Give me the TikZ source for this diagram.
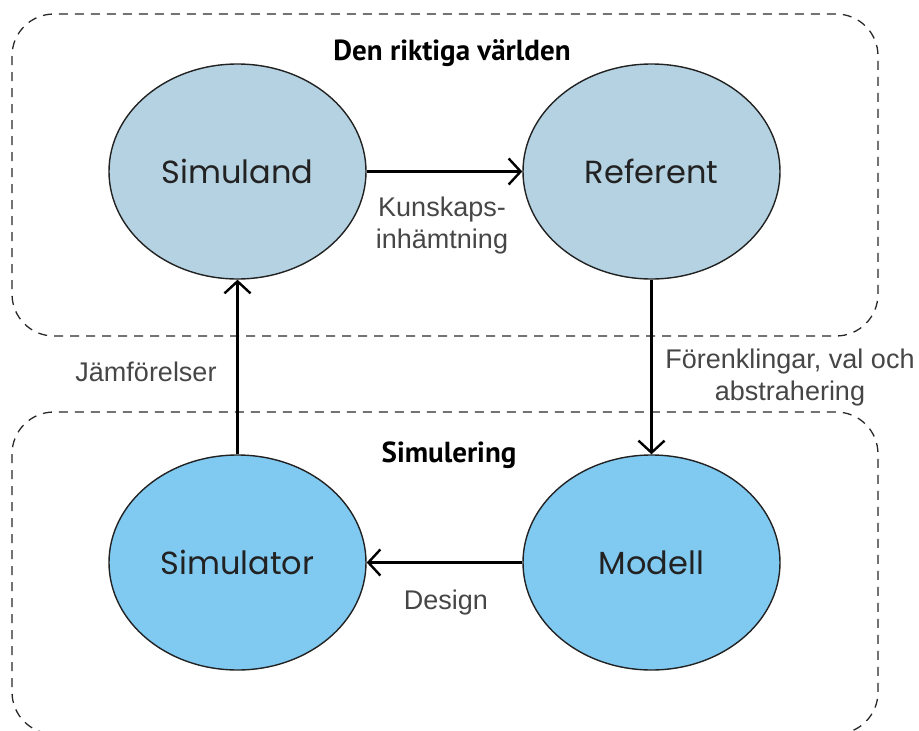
\documentclass[tikz,border=0pt]{standalone}
\usepackage{fontspec}
\setmainfont{Liberation Sans}
\newfontfamily\ellfont{Poppins}
\newfontfamily\headfont{PT Sans}
\usetikzlibrary{arrows.meta,positioning,shapes.geometric}
\definecolor{worldFill}{RGB}{180,210,225}
\definecolor{simFill}{RGB}{128,201,241}
\definecolor{edgeDark}{RGB}{34,34,34}
\definecolor{lblGray}{RGB}{70,70,70}
\definecolor{boxGray}{RGB}{40,40,40}

\tikzset{
	x=1pt, y=-1pt,
	phase/.style={
		ellipse,
		draw=edgeDark,
		line width=1.4pt,
		inner sep=0pt,
		minimum width=257pt,
		minimum height=215pt,
		text=edgeDark,
		font=\ellfont\fontsize{32}{38}\selectfont
	},
	world/.style={phase, fill=worldFill},
	simul/.style={phase, fill=simFill},
	region/.style={
		draw=boxGray,
		line width=1.3pt,
		dash pattern=on 9pt off 7pt,
		rounded corners=42pt
	},
	heading/.style={font=\headfont\bfseries\fontsize{29}{34}\selectfont, text=black},
	flow/.style={
		line width=2.4pt,
		-{Straight Barb[length=12pt,width=26pt,line width=2.4pt]}
	},
	flowlbl/.style={
		align=center,
		text=lblGray,
		font=\fontsize{27}{32}\selectfont
	}
}

\begin{document}
\begin{tikzpicture}
	\useasboundingbox (0,0) rectangle (919,731);

	% the two regions
	\draw[region] (12,14) rectangle (878,336);
	\draw[region] (12,412) rectangle (878,734);
	\node[heading] (realworld) at (452,53) {Den riktiga världen};
	\node[heading] (simregion) at (449,455) {Simulering};

	% phases
	\node[world] (simuland) at (237.5,171.5) {Simuland};
	\node[world] (referent) at (651.5,171.5) {Referent};
	\node[simul] (simulator) at (237.5,562.5) {Simulator};
	\node[simul] (modell) at (651.5,562.5) {Modell};

	% flows between phases
	\draw[flow] (simuland) -- (referent);
	\draw[flow] (referent) -- (modell);
	\draw[flow] (modell) -- (simulator);
	\draw[flow] (simulator) -- (simuland);

	\node[flowlbl] (lblknow) at (442,226) {Kunskaps-\\inhämtning};
	\node[flowlbl] (lblsimp) at (790,378) {Förenklingar, val och\\abstrahering};
	\node[flowlbl] (lbldesign) at (446,603) {Design};
	\node[flowlbl] (lblcomp) at (146,372) {Jämförelser};
\end{tikzpicture}
\end{document}
